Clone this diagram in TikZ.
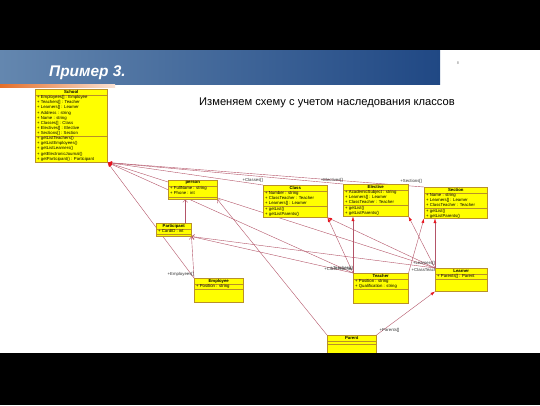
\documentclass[tikz,border=0pt]{standalone}
\usepackage{fontspec}
\setmainfont{Liberation Sans}
\usetikzlibrary{positioning,calc,arrows.meta}
\definecolor{umlfill}{RGB}{255,255,0}
\definecolor{umlborder}{RGB}{185,145,40}
\definecolor{assoc}{RGB}{180,85,105}
\definecolor{headred}{RGB}{230,20,30}
\definecolor{bannerdark}{RGB}{32,72,132}
\definecolor{bannerlight}{RGB}{100,135,175}
\definecolor{stripe}{RGB}{228,110,40}
\tikzstyle{assocline} = [draw=assoc, line width=.4bp, {Latex[length=4.5bp,width=3bp,color=headred]}-]
\tikzstyle{inherit} = [draw=assoc, line width=.4bp, -{Straight Barb[length=2.5bp,width=5bp]}]
\pgfdeclarelayer{background}
\pgfdeclarelayer{foreground}
\pgfsetlayers{background,main,foreground}

\begin{document}
\begin{tikzpicture}[x=1bp,y=-1bp,
    umlclass/.style={
      draw=umlborder,
      fill=umlfill,
      line width=.5bp,
      inner sep=0pt,
      anchor=north west
    },
    umltitle/.style={
      font=\fontsize{4.3}{5}\selectfont\bfseries,
      inner sep=0pt,
      anchor=north,
      yshift=-1.2bp
    },
    umltext/.style={
      font=\fontsize{4.3}{5.05}\selectfont,
      align=left,
      inner sep=0pt,
      anchor=north west
    },
    rolelabel/.style={
      font=\fontsize{4.3}{5}\selectfont,
      inner sep=0pt,
      text=black!80
    },
    usep/.style={
      draw=umlborder,
      line width=.4bp
    }
  ]

  \useasboundingbox (0,0) rectangle (540,405);

  \begin{pgfonlayer}{background}
    % slide header
    \fill[white] (0,0) rectangle (540,405);
    \fill[black] (0,0) rectangle (540,50);
    \shade[left color=bannerlight, right color=bannerdark] (0,50) rectangle (440,84);
    \shade[left color=stripe, right color=stripe!20] (0,84) rectangle (115,87);
  \end{pgfonlayer}

  \node[anchor=base west, inner sep=0pt, text=white,
    font=\fontsize{15.5}{17}\selectfont\bfseries\itshape] (title) at (49,76) {Пример 3.};
  \node[inner sep=0pt, text=black!50, font=\fontsize{4}{5}\selectfont] (pagenum) at (458,63) {8};
  \node[anchor=base west, inner sep=0pt, font=\fontsize{11.2}{13}\selectfont] (subtitle) at (199,105)
    {Изменяем схему с учетом наследования классов};

  % classes
  \node[umlclass, minimum width=72bp, minimum height=73bp] (school) at (35,89) {};
  \node[umltitle] (school-t) at (school.north) {School};
  \draw[usep] ([yshift=-6bp]school.north west) -- ([yshift=-6bp]school.north east);
  \node[umltext] (school-a) at ([xshift=2bp,yshift=-6.6bp]school.north west)
    {+ Employees[] : Employee\\+ Teachers[] : Teacher\\+ Learners[] : Learner\\+ Address : string\\
     + Name : string\\+ Classes[] : Class\\+ Electives[] : Elective\\+ Sections[] : Section};
  \draw[usep] ([yshift=-47bp]school.north west) -- ([yshift=-47bp]school.north east);
  \node[umltext] (school-m) at ([xshift=2bp,yshift=-47.6bp]school.north west)
    {+ getListTeachers()\\+ getListEmployees()\\+ getListLearners()\\+ getElectronicJournal()\\
     + getParticipant() : Participant};

  \node[umlclass, minimum width=49bp, minimum height=19bp] (person) at (168,180) {};
  \node[umltitle] (person-t) at (person.north) {person};
  \draw[usep] ([yshift=-6bp]person.north west) -- ([yshift=-6bp]person.north east);
  \node[umltext] (person-a) at ([xshift=2bp,yshift=-6.6bp]person.north west)
    {+ FullName : string\\+ Phone : int};
  \draw[usep] ([yshift=-17bp]person.north west) -- ([yshift=-17bp]person.north east);

  \node[umlclass, minimum width=64bp, minimum height=32bp] (class) at (263,185) {};
  \node[umltitle] (class-t) at (class.north) {Class};
  \draw[usep] ([yshift=-6bp]class.north west) -- ([yshift=-6bp]class.north east);
  \node[umltext] (class-a) at ([xshift=2bp,yshift=-6.6bp]class.north west)
    {+ Number : string\\+ ClassTeacher : Teacher\\+ Learners[] : Learner};
  \draw[usep] ([yshift=-21.5bp]class.north west) -- ([yshift=-21.5bp]class.north east);
  \node[umltext] (class-m) at ([xshift=2bp,yshift=-22.1bp]class.north west)
    {+ getList()\\+ getListParents()};

  \node[umlclass, minimum width=65bp, minimum height=32bp] (elective) at (343,184) {};
  \node[umltitle] (elective-t) at (elective.north) {Elective};
  \draw[usep] ([yshift=-6bp]elective.north west) -- ([yshift=-6bp]elective.north east);
  \node[umltext] (elective-a) at ([xshift=2bp,yshift=-6.6bp]elective.north west)
    {+ AcademicSubject : string\\+ Learners[] : Learner\\+ ClassTeacher : Teacher};
  \draw[usep] ([yshift=-21.5bp]elective.north west) -- ([yshift=-21.5bp]elective.north east);
  \node[umltext] (elective-m) at ([xshift=2bp,yshift=-22.1bp]elective.north west)
    {+ getList()\\+ getListParents()};

  \node[umlclass, minimum width=63bp, minimum height=31bp] (section) at (424,187) {};
  \node[umltitle] (section-t) at (section.north) {Section};
  \draw[usep] ([yshift=-6bp]section.north west) -- ([yshift=-6bp]section.north east);
  \node[umltext] (section-a) at ([xshift=2bp,yshift=-6.6bp]section.north west)
    {+ Name : string\\+ Learners[] : Learner\\+ ClassTeacher : Teacher};
  \draw[usep] ([yshift=-21.5bp]section.north west) -- ([yshift=-21.5bp]section.north east);
  \node[umltext] (section-m) at ([xshift=2bp,yshift=-22.1bp]section.north west)
    {+ getList()\\+ getListParents()};

  \node[umlclass, minimum width=35bp, minimum height=13bp] (participant) at (156,223) {};
  \node[umltitle] (participant-t) at (participant.north) {Participant};
  \draw[usep] ([yshift=-6bp]participant.north west) -- ([yshift=-6bp]participant.north east);
  \node[umltext] (participant-a) at ([xshift=2bp,yshift=-6.6bp]participant.north west) {+ CardID : int};
  \draw[usep] ([yshift=-11.3bp]participant.north west) -- ([yshift=-11.3bp]participant.north east);

  \node[umlclass, minimum width=49bp, minimum height=24bp] (employee) at (194,278) {};
  \node[umltitle] (employee-t) at (employee.north) {Employee};
  \draw[usep] ([yshift=-6bp]employee.north west) -- ([yshift=-6bp]employee.north east);
  \node[umltext] (employee-a) at ([xshift=2bp,yshift=-6.6bp]employee.north west) {+ Position : string};
  \draw[usep] ([yshift=-11.3bp]employee.north west) -- ([yshift=-11.3bp]employee.north east);

  \node[umlclass, minimum width=55bp, minimum height=30bp] (teacher) at (353,273) {};
  \node[umltitle] (teacher-t) at (teacher.north) {Teacher};
  \draw[usep] ([yshift=-6bp]teacher.north west) -- ([yshift=-6bp]teacher.north east);
  \node[umltext] (teacher-a) at ([xshift=2bp,yshift=-6.6bp]teacher.north west)
    {+ Position : string\\+ Qualification : string};
  \draw[usep] ([yshift=-16.5bp]teacher.north west) -- ([yshift=-16.5bp]teacher.north east);

  \node[umlclass, minimum width=52bp, minimum height=23bp] (learner) at (435,268) {};
  \node[umltitle] (learner-t) at (learner.north) {Learner};
  \draw[usep] ([yshift=-6bp]learner.north west) -- ([yshift=-6bp]learner.north east);
  \node[umltext] (learner-a) at ([xshift=2bp,yshift=-6.6bp]learner.north west) {+ Parents[] : Parent};
  \draw[usep] ([yshift=-11.3bp]learner.north west) -- ([yshift=-11.3bp]learner.north east);

  \node[umlclass, minimum width=49bp, minimum height=30bp] (parent) at (327,335) {};
  \node[umltitle] (parent-t) at (parent.north) {Parent};
  \draw[usep] ([yshift=-6bp]parent.north west) -- ([yshift=-6bp]parent.north east);
  \draw[usep] ([yshift=-9bp]parent.north west) -- ([yshift=-9bp]parent.north east);

  \begin{pgfonlayer}{background}
    % associations
    \draw[assocline] (school.south east) -- (class.north west);
    \draw[assocline] (school.south east) -- (elective.north west);
    \draw[assocline] (school.south east) -- (section.north west);
    \draw[assocline] (school.south east) -- (employee.north west);
    \draw[assocline] (school.south east) -- (teacher.north west);
    \draw[assocline] (school.south east) -- (learner.north west);
    \draw[assocline] (class.south east) -- (teacher.north west);
    \draw[assocline] (class.south east) -- (learner.north west);
    \draw[assocline] (elective.south west -| teacher.north west) -- (teacher.north west);
    \draw[assocline] (elective.south east) -- (learner.north west);
    \draw[assocline] (section.south west) -- (teacher.north east);
    \draw[assocline] (section.south west -| learner.north west) -- (learner.north west);
    \draw[assocline] (learner.south west) -- (parent.north east);

    % generalizations
    \draw[inherit] ([xshift=-7.5bp]person.south |- participant.north) -- ([xshift=-7.5bp]person.south);
    \draw[inherit] (parent.north west) -- (person.south east);
    \draw[inherit] (employee.north west) -- (participant.south east);
    \draw[inherit] (teacher.north west) -- (participant.south east);
    \draw[inherit] (learner.north west) -- (participant.south east);

    % role names
    \node[rolelabel, anchor=south east] (r-classes) at ([yshift=2bp]class.north west) {+Classes[]};
    \node[rolelabel, anchor=south east] (r-electives) at ([yshift=1.5bp]elective.north west) {+Electives[]};
    \node[rolelabel, anchor=south east] (r-sections) at ([xshift=-2bp,yshift=3.5bp]section.north west) {+Sections[]};
    \node[rolelabel, anchor=south east] (r-employees) at ([yshift=1.5bp]employee.north west) {+Employees[]};
    \node[rolelabel, anchor=south east] (r-teachers) at ([yshift=2bp]teacher.north west) {+Teachers[]};
    \node[rolelabel, anchor=south east] (r-ct1) at ([yshift=2.3bp]teacher.north west) {+ClassTeacher};
    \node[rolelabel, anchor=south west] (r-ct3) at ([xshift=3bp,yshift=1.3bp]teacher.north east) {+ClassTeacher};
    \node[rolelabel, anchor=south east] (r-learners) at ([yshift=2.5bp]learner.north west) {+Learners[]};
    \node[rolelabel, anchor=south west] (r-parents) at ([xshift=3bp,yshift=2.5bp]parent.north east) {+Parents[]};
  \end{pgfonlayer}

  \begin{pgfonlayer}{foreground}
    \fill[black] (0,353) rectangle (540,405);
  \end{pgfonlayer}

\end{tikzpicture}
\end{document}
